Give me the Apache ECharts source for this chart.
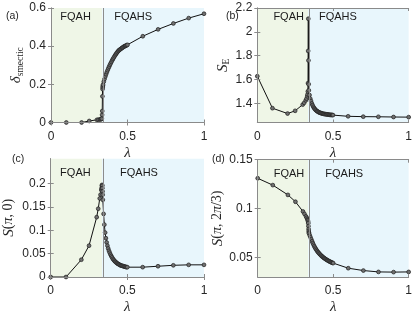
<!DOCTYPE html>
<html><head><meta charset="utf-8">
<script src="https://cdn.jsdelivr.net/npm/echarts@6/dist/echarts.min.js"></script>
<style>html,body{margin:0;padding:0;background:#fff}#c{width:415px;height:316px}</style>
</head><body><div id="c"></div>
<script>
const lambda = [0, 0.1, 0.2, 0.25, 0.3, 0.31, 0.32, 0.325, 0.33, 0.332, 0.334, 0.335, 0.336, 0.337, 0.338, 0.339, 0.34,
  0.345, 0.35, 0.355, 0.36, 0.365, 0.37, 0.375, 0.38, 0.385, 0.39, 0.395, 0.40, 0.405, 0.41, 0.415, 0.42, 0.425, 0.43, 0.435, 0.44, 0.445, 0.45, 0.455, 0.46, 0.465, 0.47, 0.475, 0.48, 0.485, 0.49, 0.495, 0.5,
  0.6, 0.7, 0.8, 0.9, 1.0];
const deltaSmectic = [0, 0, 0, 0.008, 0.014, 0.015, 0.016, 0.017, 0.018, 0.02, 0.04, 0.06, 0.137, 0.175, 0.185, 0.192, 0.198,
  0.214, 0.228, 0.241, 0.253, 0.264, 0.274, 0.284, 0.293, 0.302, 0.310, 0.318, 0.326, 0.333, 0.340, 0.347, 0.353, 0.359, 0.365, 0.370, 0.375, 0.379, 0.382, 0.385, 0.388, 0.391, 0.394, 0.397, 0.399, 0.401, 0.403, 0.405, 0.407,
  0.452, 0.488, 0.519, 0.547, 0.570];
const entropyE = [1.628, 1.36, 1.315, 1.338, 1.39, 1.405, 1.425, 1.44, 1.46, 1.475, 1.50, 1.57, 1.84, 2.11, 1.76, 1.56, 1.51,
  1.47, 1.44, 1.42, 1.40, 1.385, 1.372, 1.362, 1.353, 1.346, 1.340, 1.335, 1.331, 1.327, 1.324, 1.321, 1.319, 1.317, 1.315, 1.313, 1.312, 1.311, 1.310, 1.309, 1.308, 1.307, 1.306, 1.305, 1.304, 1.304, 1.303, 1.303, 1.302,
  1.292, 1.289, 1.288, 1.286, 1.285];
const sPi0 = [0, 0, 0.037, 0.067, 0.128, 0.146, 0.168, 0.176, 0.186, 0.19, 0.195, 0.197, 0.195, 0.19, 0.183, 0.176, 0.165,
  0.135, 0.112, 0.095, 0.083, 0.074, 0.067, 0.061, 0.056, 0.052, 0.048, 0.045, 0.042, 0.039, 0.037, 0.035, 0.033, 0.032, 0.030, 0.029, 0.028, 0.027, 0.026, 0.025, 0.0245, 0.024, 0.0235, 0.023, 0.0225, 0.022, 0.0215, 0.021, 0.021,
  0.021, 0.023, 0.025, 0.026, 0.026];
const sPi2Pi3 = [0.131, 0.124, 0.114, 0.107, 0.097, 0.0945, 0.092, 0.0905, 0.089, 0.088, 0.0865, 0.085, 0.082, 0.079, 0.077, 0.0755, 0.0745,
  0.0725, 0.0705, 0.0685, 0.0665, 0.0647, 0.063, 0.0614, 0.06, 0.0587, 0.0575, 0.0564, 0.0554, 0.0545, 0.0536, 0.0528, 0.052, 0.0513, 0.0506, 0.05, 0.0494, 0.0488, 0.0483, 0.0478, 0.0473, 0.0468, 0.0464, 0.046, 0.0456, 0.0452, 0.0448, 0.0445, 0.0442,
  0.039, 0.0366, 0.0352, 0.035, 0.0352];
const phaseBoundary = 0.335;
const phaseNames = ['FQAH', 'FQAHS'];
const xTicks = [0, 0.5, 1];
const yTicksA = [0, 0.2, 0.4, 0.6];
const yTicksB = [1.4, 1.6, 1.8, 2, 2.2];
const yTicksC = [0, 0.05, 0.1, 0.15, 0.2];
const yTicksD = [0.05, 0.1, 0.15];
const panelLetters = ['(a)', '(b)', '(c)', '(d)'];

const SANS = 'Liberation Sans, Arial, sans-serif';
const SERIF = 'Liberation Serif, Times New Roman, serif';
const TXT = '#262626';
const AX = '#8a8a8a';

const panels = [
  {grid:{left:51, top:8, width:153, height:114.5}, y:deltaSmectic, ymin:0, ymax:0.6, yt:yTicksA,
   name:'{d|δ}{s|smectic}', gap:19, fq:[-1,3], fqs:[9,3]},
  {grid:{left:257.3, top:8, width:153.7, height:114.5}, y:entropyE, ymin:1.24, ymax:2.2, yt:yTicksB,
   name:'{d|S}{s|E}', gap:15, fq:[6,3], fqs:[8,3]},
  {grid:{left:50.7, top:158.7, width:153.3, height:121.6}, y:sPi0, ymin:0, ymax:0.253, yt:yTicksC,
   name:'{d|S}{n|(}{i|π}{n|, 0)}', gap:33, fq:[-1,9], fqs:[9,9]},
  {grid:{left:257.7, top:159.7, width:153, height:119}, y:sPi2Pi3, ymin:0.03, ymax:0.15, yt:yTicksD,
   name:'{d|S}{n|(}{i|π}{n|, 2}{i|π}{n|/3)}', gap:31, fq:[6,9], fqs:[8,9]}
];

const rich = {
  d:{fontFamily:SERIF, fontStyle:'italic', fontSize:15, color:TXT, lineHeight:18, verticalAlign:'middle'},
  s:{fontFamily:SERIF, fontSize:9.5, color:TXT, lineHeight:6, verticalAlign:'bottom'},
  n:{fontFamily:SERIF, fontSize:14, color:TXT, lineHeight:18, verticalAlign:'middle'},
  i:{fontFamily:SERIF, fontStyle:'italic', fontSize:14, color:TXT, lineHeight:18, verticalAlign:'middle'}
};

const grid = [], xAxis = [], yAxis = [], series = [], title = [];
panels.forEach((p, k) => {
  grid.push(Object.assign({containLabel:false, show:false}, p.grid));
  const tick = {show:true, inside:true, length:3, lineStyle:{color:AX, width:1}};
  xAxis.push({gridIndex:k, type:'value', min:0, max:1, position:'bottom', z:10,
    axisLine:{show:true, lineStyle:{color:AX, width:1}},
    axisTick:Object.assign({customValues:xTicks}, tick),
    axisLabel:{customValues:xTicks, color:TXT, fontSize:12, fontFamily:SANS, margin:8},
    splitLine:{show:false},
    name:'λ', nameLocation:'middle', nameGap:23,
    nameTextStyle:{fontFamily:SERIF, fontStyle:'italic', fontSize:15, color:TXT}});
  xAxis.push({gridIndex:k, type:'value', min:0, max:1, position:'top', z:10,
    axisLine:{show:true, lineStyle:{color:AX, width:1}},
    axisTick:Object.assign({customValues:xTicks}, tick),
    axisLabel:{show:false}, splitLine:{show:false}});
  yAxis.push({gridIndex:k, type:'value', min:p.ymin, max:p.ymax, position:'left', z:10,
    axisLine:{show:true, lineStyle:{color:AX, width:1}},
    axisTick:Object.assign({customValues:p.yt}, tick),
    axisLabel:{customValues:p.yt, color:TXT, fontSize:12, fontFamily:SANS, margin:5},
    splitLine:{show:false},
    name:p.name, nameLocation:'middle', nameGap:p.gap,
    nameTextStyle:{rich:rich}});
  yAxis.push({gridIndex:k, type:'value', min:p.ymin, max:p.ymax, position:'right', z:10,
    axisLine:{show:true, lineStyle:{color:AX, width:1}},
    axisTick:Object.assign({customValues:p.yt}, tick),
    axisLabel:{show:false}, splitLine:{show:false}});
  const lab = (txt, pos, off) => ({show:true, formatter:txt, position:pos, distance:off[1], offset:[off[0],0],
    color:'#1a1a1a', fontSize:11, fontFamily:SANS});
  series.push({type:'line', xAxisIndex:2*k, yAxisIndex:2*k, z:3,
    data:lambda.map((l, i) => [l, p.y[i]]),
    symbol:'circle', symbolSize:3.8, showSymbol:true,
    itemStyle:{color:'#707070', borderColor:'#1e1e1e', borderWidth:0.7},
    lineStyle:{color:'#111', width:1},
    animation:false, silent:true,
    markArea:{silent:true, data:[
      [{xAxis:0, itemStyle:{color:'#eff6e7'}, label:lab(phaseNames[0], 'insideTop', p.fq)}, {xAxis:phaseBoundary}],
      [{xAxis:phaseBoundary, itemStyle:{color:'#e8f6fc'}, label:lab(phaseNames[1], 'insideTopLeft', p.fqs)}, {xAxis:1}]
    ]},
    markLine:{silent:true, symbol:'none', label:{show:false}, animation:false,
      lineStyle:{color:'#8c8c8c', width:1, type:'solid'}, data:[{xAxis:phaseBoundary}]}
  });
});
const letterPos = [[6,11],[226,11],[12,154],[212,154]];
letterPos.forEach((pp, k) => title.push({text:panelLetters[k], left:pp[0], top:pp[1], padding:0,
  textStyle:{fontSize:10.5, fontWeight:'normal', fontFamily:SANS, color:TXT}}));

const chart = echarts.init(document.getElementById('c'), null, {renderer:'canvas'});
chart.setOption({animation:false, backgroundColor:'#fff', title, grid, xAxis, yAxis, series});
</script></body></html>
